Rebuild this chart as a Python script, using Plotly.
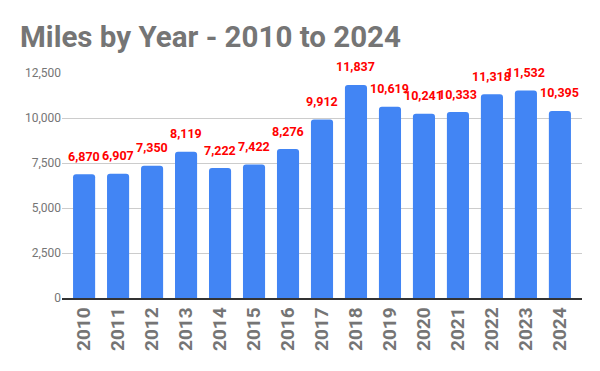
import plotly.graph_objects as go

years = ["2010", "2011", "2012", "2013", "2014", "2015", "2016", "2017",
         "2018", "2019", "2020", "2021", "2022", "2023", "2024"]
miles = [6870, 6907, 7350, 8119, 7222, 7422, 8276, 9912,
         11837, 10619, 10241, 10333, 11318, 11532, 10395]
y_ticks = [0, 2500, 5000, 7500, 10000, 12500]
y_tick_labels = ["0", "2,500", "5,000", "7,500", "10,000", "12,500"]

# the page body has an 8px margin, so the figure is sized to fit the window
W, H = 592, 363

fig = go.Figure()
fig.add_trace(go.Bar(
    x=years, y=miles,
    marker=dict(color="#4285F4", line=dict(width=0)),
    width=0.65,
    hoverinfo="skip",
))

for i, v in enumerate(miles):
    fig.add_annotation(
        x=i, y=v, text=f"<b>{v:,}</b>", showarrow=False,
        yshift=18, font=dict(family="Roboto", size=12.5, color="#FF0000"),
    )

fig.update_layout(
    width=W, height=H,
    margin=dict(l=54, r=18, t=65, b=73),
    paper_bgcolor="white", plot_bgcolor="white",
    showlegend=False,
    barcornerradius=3,
    title=dict(
        text="<b>Miles by Year - 2010 to 2024</b>",
        x=12 / W, xanchor="left", xref="container",
        y=1 - 29 / H, yanchor="middle", yref="container",
        font=dict(family="Roboto", size=29.5, color="#757575"),
    ),
    xaxis=dict(
        type="category", range=[-0.65, 14.65], automargin=False,
        tickangle=-90, showgrid=False, ticks="",
        tickfont=dict(family="Roboto", size=19, color="#757575", weight="bold"),
        showline=True, linecolor="#333333", linewidth=1.5,
    ),
    yaxis=dict(
        range=[0, 12500], tickvals=y_ticks, ticktext=y_tick_labels,
        automargin=False,
        showgrid=True, gridcolor="#CCCCCC", gridwidth=1,
        zeroline=False, ticks="", ticklen=0,
        tickfont=dict(family="Roboto", size=12, color="#757575"),
    ),
)

fig.write_html("out.html")
